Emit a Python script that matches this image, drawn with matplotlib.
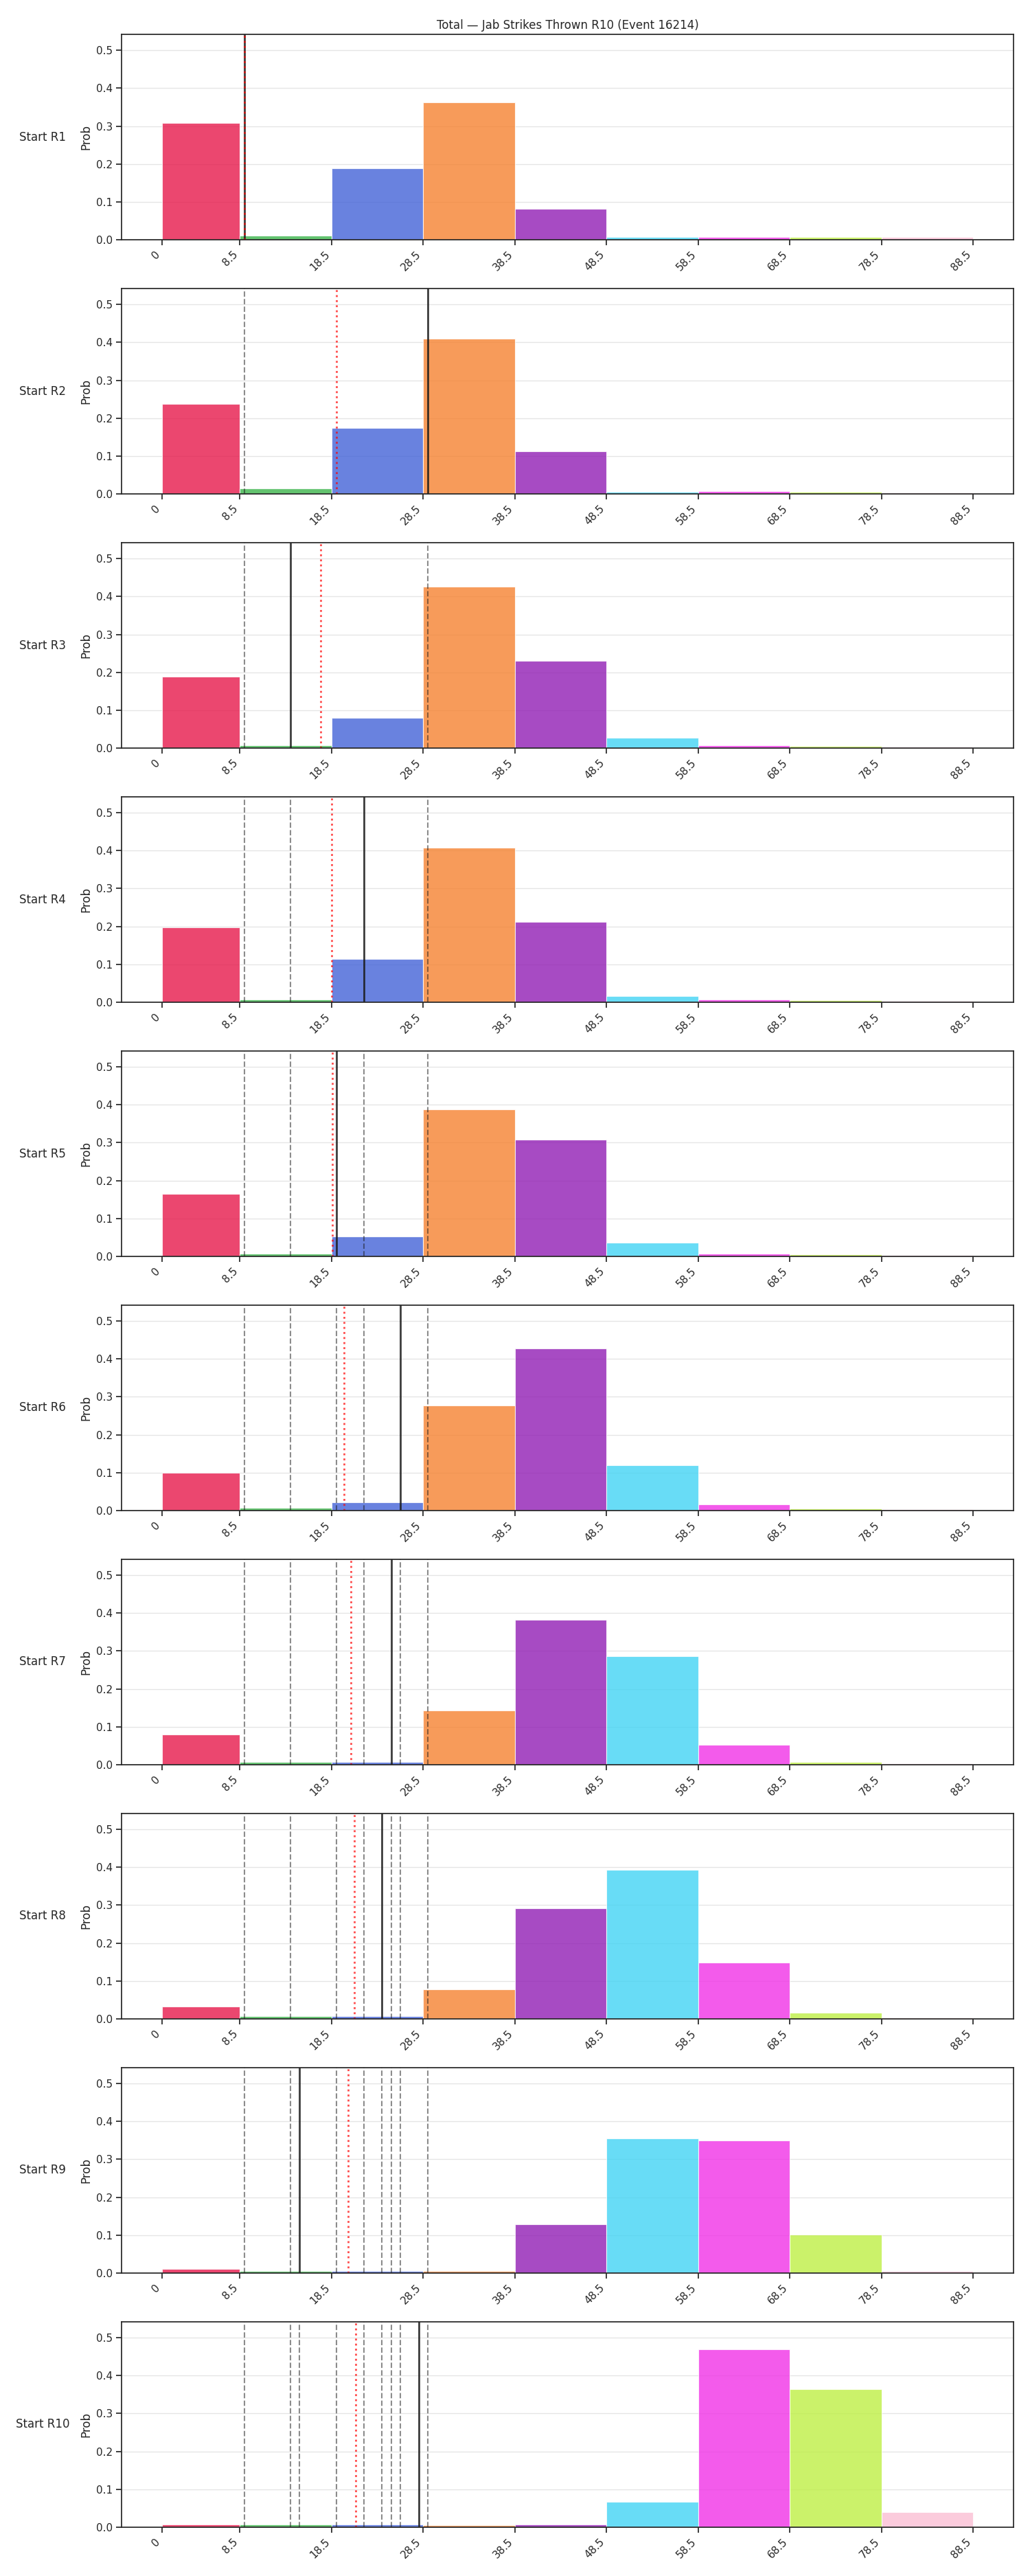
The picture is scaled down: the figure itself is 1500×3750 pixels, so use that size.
import numpy as np
import matplotlib
matplotlib.use("Agg")
import matplotlib.pyplot as plt
import seaborn as sns

# bin edges of the total jab count
edges = [0, 8.5, 18.5, 28.5, 38.5, 48.5, 58.5, 68.5, 78.5, 88.5]
tick_labels = ['0', '8.5', '18.5', '28.5', '38.5', '48.5', '58.5', '68.5', '78.5', '88.5']
colors = ['#e6194b', '#3cb44b', '#4363d8', '#f58231', '#911eb4',
          '#42d4f4', '#f032e6', '#bfef45', '#fabed4']

rounds = ['Start R1', 'Start R2', 'Start R3', 'Start R4', 'Start R5',
          'Start R6', 'Start R7', 'Start R8', 'Start R9', 'Start R10']

# probability per bin, one row per starting round
probs_r1 = [0.308, 0.012, 0.188, 0.363, 0.082, 0.008, 0.008, 0.007, 0.007]
probs_r2 = [0.237, 0.015, 0.174, 0.410, 0.113, 0.006, 0.007, 0.005, 0.004]
probs_r3 = [0.188, 0.007, 0.080, 0.426, 0.231, 0.027, 0.008, 0.005, 0.004]
probs_r4 = [0.197, 0.007, 0.115, 0.407, 0.212, 0.016, 0.007, 0.005, 0.004]
probs_r5 = [0.165, 0.007, 0.052, 0.387, 0.308, 0.036, 0.007, 0.005, 0.004]
probs_r6 = [0.100, 0.007, 0.022, 0.278, 0.428, 0.119, 0.016, 0.006, 0.004]
probs_r7 = [0.080, 0.007, 0.007, 0.144, 0.383, 0.286, 0.052, 0.007, 0.004]
probs_r8 = [0.032, 0.007, 0.007, 0.078, 0.292, 0.394, 0.149, 0.016, 0.004]
probs_r9 = [0.012, 0.006, 0.006, 0.006, 0.128, 0.356, 0.349, 0.102, 0.005]
probs_r10 = [0.007, 0.007, 0.007, 0.006, 0.007, 0.067, 0.469, 0.365, 0.040]
all_probs = [probs_r1, probs_r2, probs_r3, probs_r4, probs_r5,
             probs_r6, probs_r7, probs_r8, probs_r9, probs_r10]

# actual total at each round start (black) and running average (red)
actual = [9, 29, 14, 22, 19, 26, 25, 24, 15, 28]
avg = [9.0, 19.0, 17.33, 18.5, 18.6, 19.83, 20.57, 21.0, 20.33, 21.1]

sns.set_theme(style='ticks', context='notebook')
plt.rcParams['font.family'] = ['DejaVu Sans']

fig, axes = plt.subplots(10, 1, figsize=(15, 37.5), dpi=100)
fig.subplots_adjust(left=0.118, right=0.984, top=0.9867, bottom=0.0189, hspace=0.236)

left = np.array(edges[:-1])
widths = np.diff(edges)

for i, ax in enumerate(axes):
    ax.bar(left, all_probs[i], width=widths, align='edge', color=colors,
           alpha=0.8, edgecolor='white', linewidth=0.8)
    for x in actual[:i]:
        ax.axvline(x, color='k', linestyle='--', linewidth=1.5, alpha=0.5)
    ax.axvline(actual[i], color='k', linewidth=2, alpha=0.85)
    ax.axvline(avg[i], color='red', linestyle=':', linewidth=2, alpha=0.7)
    ax.set_xticks(edges)
    ax.set_xticklabels(tick_labels, rotation=45, ha='right')
    ax.set_ylim(0, 0.542)
    ax.set_yticks([0.0, 0.1, 0.2, 0.3, 0.4, 0.5])
    ax.grid(axis='y', alpha=0.5)
    ax.set_axisbelow(True)
    ax.set_ylabel('Prob')
    ax.text(-0.0885, 0.5, rounds[i], transform=ax.transAxes,
            ha='center', va='center', fontsize=12)

axes[0].set_title('Total — Jab Strikes Thrown R10 (Event 16214)')

fig.savefig('out.png', dpi=100)
